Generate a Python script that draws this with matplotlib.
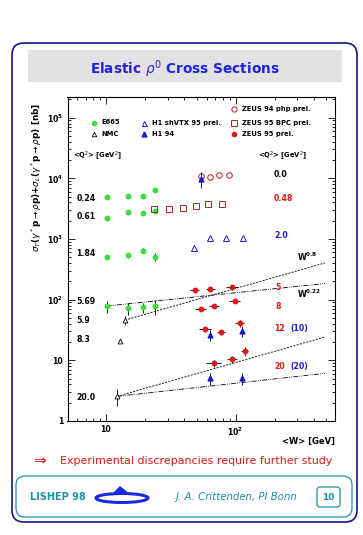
import matplotlib
matplotlib.use("Agg")
import matplotlib.pyplot as plt
import numpy as np
from matplotlib.patches import FancyBboxPatch, Ellipse, Polygon
from matplotlib.ticker import FixedLocator, FixedFormatter, LogLocator, NullFormatter

# ---------------- data ----------------
# E665 (green filled circles)
w_e665 = [10.1, 14.9, 19.2, 24.0]
e665_q024 = [4840, 5090, 5090, 6390]
e665_q061 = [2185, 2740, 2670, 2850]
e665_q184 = [509, 537, 639, 509]
e665_q184_err = [0, 50, 60, 80]
e665_q569 = [78.5, 72, 74.7, 78.5]
e665_q569_err = [18, 16, 14, 22]

# NMC (open black triangles)
w_nmc = [14.0, 12.8, 12.2]
nmc_sig = [46.1, 20.6, 2.55]
nmc_err = [8, 0, 0.8]

# ZEUS 94 php prel. (open circles)
w_zeus_php = [54.6, 64.1, 75.2, 88.8]
zeus_php = [10900, 10350, 11200, 11300]

# H1 94 photoproduction
w_h1_php = [54.6]
h1_php = [9600]
h1_php_err_lo = [2800]
h1_php_err_hi = [3200]

# ZEUS 95 BPC prel. (open squares)
w_bpc = [23.6, 30.8, 39.5, 49.3, 61.7, 78.3]
bpc_sig = [3170, 3110, 3290, 3520, 3715, 3760]

# H1 shVTX 95 prel. (open blue triangles)
w_h1sv = [48.2, 64.1, 84.7, 113.6]
h1sv_sig = [722, 1023, 1023, 1023]

# ZEUS 95 prel. (red filled circles)
w_z5 = [48.4, 64.1, 94.0];  z5 = [144, 150, 160];   z5_xe = [4, 5, 10];  z5_ye = [12, 12, 14]
w_z8 = [53.7, 68.7, 99.1];  z8 = [70, 77.6, 94.8];  z8_xe = [5, 6, 10];  z8_ye = [5, 6, 8]
w_z12 = [58.6, 77.6, 108.3]; z12 = [32.4, 29.0, 41.1]; z12_xe = [6, 6, 9]; z12_ye = [3, 3, 5]
w_z20 = [68.7, 94.0, 117.8]; z20 = [9.0, 10.4, 14.1]; z20_xe = [9, 8, 8]; z20_ye = [1.2, 1.3, 2.5]

# H1 94 DIS (blue filled triangles)
w_h1dis = [64.1, 112.3]
h1_q10 = [26.1, 30.6]; h1_q10_err = [5, 6]
h1_q20 = [5.05, 5.05]; h1_q20_err = [1.2, 1.2]

# power-law guide lines: (W0, sigma0, exponent, W_end)
line_hi_dash = (14.0, 46.1, 0.61, 490)
line_hi_dashdot = (10.1, 78.5, 0.22, 490)
line_lo_dash = (12.2, 2.55, 0.61, 490)
line_lo_dashdot = (12.2, 2.55, 0.236, 490)

left_labels = ["0.24", "0.61", "1.84", "5.69", "5.9", "8.3", "20.0"]
left_label_y = [4670, 2320, 570, 92, 45.6, 22.2, 2.42]

# ---------------- colours ----------------
GREEN = "#3ddc3d"
RED = "#e01818"
DRED = "#b02020"
BLUE = "#1a1acc"
TEAL = "#1f8fa6"
NAVY = "#14148c"

plt.rcParams['font.family'] = ['DejaVu Sans']
fig = plt.figure(figsize=(3.63, 5.35), dpi=100)

# ---------------- slide background ----------------
bg = fig.add_axes([0, 0, 1, 1], zorder=0)
bg.set_xlim(0, 363); bg.set_ylim(535, 0); bg.axis('off')
bg.add_patch(FancyBboxPatch((12, 43), 345, 479, boxstyle="round,pad=0,rounding_size=12",
                            fc='white', ec=NAVY, lw=1.2))
bg.add_patch(FancyBboxPatch((28, 50), 314, 32, boxstyle="square,pad=0",
                            fc='#e2e2e2', ec='none'))
bg.text(185, 69, r"Elastic $\rho^0$ Cross Sections", color="#2222dd", fontsize=9.8,
        fontweight='bold', ha='center', va='center')
bg.text(33, 461, "\u21d2", color=RED, fontsize=11, ha='left', va='center')
bg.text(60, 461, "Experimental discrepancies require further study", color=RED,
        fontsize=7.9, ha='left', va='center')
bg.add_patch(FancyBboxPatch((16, 476), 336, 41, boxstyle="round,pad=0,rounding_size=9",
                            fc='none', ec=TEAL, lw=0.9))
bg.text(30, 497, "LISHEP 98", color=TEAL, fontsize=7, fontweight='bold', ha='left', va='center')
bg.add_patch(Ellipse((122, 498), 52, 9, fc='none', ec='#1a2ae0', lw=2.2))
bg.add_patch(Polygon([[112, 494], [120, 486], [130, 494]], closed=True, fc='#1a2ae0', ec='none'))
bg.text(176, 497, "J. A. Crittenden, PI Bonn", color=TEAL, fontsize=7.3, style='italic',
        ha='left', va='center')
bg.add_patch(FancyBboxPatch((317, 487), 23, 20, boxstyle="round,pad=0,rounding_size=3",
                            fc='none', ec=TEAL, lw=0.9))
bg.text(328.5, 497, "10", color=TEAL, fontsize=6.5, fontweight='bold', ha='center', va='center')

# y label
bg.text(37, 103, r"$\sigma_T$($\gamma^*$p$\rightarrow$$\rho$p)+$\sigma_L$($\gamma^*$p$\rightarrow$$\rho$p) [nb]",
        rotation=90, ha='center', va='top', fontsize=6.4, fontweight='bold')

# ---------------- main axes ----------------
ax = fig.add_axes([67.5/363, (535-421)/535, 267.5/363, 324/535], zorder=2)
ax.set_xscale('log'); ax.set_yscale('log')
ax.set_xlim(5.05, 586); ax.set_ylim(1, 2.19e5)
ax.patch.set_alpha(0)

ms = 3.2
ax.plot(w_e665, e665_q024, 'o', color=GREEN, ms=ms, mec=GREEN)
ax.plot(w_e665, e665_q061, 'o', color=GREEN, ms=ms, mec=GREEN)
ax.errorbar(w_e665, e665_q184, yerr=e665_q184_err, fmt='o', color=GREEN, ms=ms, ecolor='k', elinewidth=0.6, capsize=0)
ax.errorbar(w_e665, e665_q569, yerr=e665_q569_err, fmt='o', color=GREEN, ms=ms, ecolor='k', elinewidth=0.6, capsize=0, zorder=4)

ax.errorbar(w_nmc, nmc_sig, yerr=nmc_err, fmt='^', mfc='white', mec='k', ms=3.5, mew=0.6, ecolor='k', elinewidth=0.6, capsize=0, zorder=4)

ax.plot(w_zeus_php, zeus_php, 'o', mfc='none', mec=DRED, ms=4, mew=0.7)
ax.errorbar(w_h1_php, h1_php, yerr=[h1_php_err_lo, h1_php_err_hi], fmt='^', color=BLUE, ms=3.5, ecolor='k', elinewidth=0.6, capsize=0)
ax.plot(w_bpc, bpc_sig, 's', mfc='none', mec=DRED, ms=4.3, mew=0.7)
ax.plot(w_h1sv, h1sv_sig, '^', mfc='none', mec=BLUE, ms=4, mew=0.7)

for w, s, xe, ye in [(w_z5, z5, z5_xe, z5_ye), (w_z8, z8, z8_xe, z8_ye),
                     (w_z12, z12, z12_xe, z12_ye), (w_z20, z20, z20_xe, z20_ye)]:
    ax.errorbar(w, s, xerr=xe, yerr=ye, fmt='o', color=RED, ms=ms, ecolor='k', elinewidth=0.6, capsize=0, zorder=4)
ax.errorbar(w_h1dis, h1_q10, yerr=h1_q10_err, fmt='^', color=BLUE, ms=3.5, ecolor='k', elinewidth=0.6, capsize=0, zorder=4)
ax.errorbar(w_h1dis, h1_q20, yerr=h1_q20_err, fmt='^', color=BLUE, ms=3.5, ecolor='k', elinewidth=0.6, capsize=0, zorder=4)

def powerline(params, dashes):
    w0, s0, p, w1 = params
    w = np.geomspace(w0, w1, 50)
    ax.plot(w, s0 * (w / w0) ** p, color='k', lw=0.6, dashes=dashes, zorder=3)

powerline(line_hi_dash, (2.5, 1.5))
powerline(line_lo_dash, (2.5, 1.5))
powerline(line_hi_dashdot, (6, 1.5, 1, 1.5, 1, 1.5))
powerline(line_lo_dashdot, (6, 1.5, 1, 1.5, 1, 1.5))

fs = 5.6
for lab, y in zip(left_labels, left_label_y):
    ax.text(5.9, y, lab, fontsize=fs, fontweight='bold', ha='left', va='center')
ax.text(5.56, 23200, r"<Q$^2$> [GeV$^2$]", fontsize=4.9, fontweight='bold', ha='left', va='center')
ax.text(149, 23200, r"<Q$^2$> [GeV$^2$]", fontsize=4.9, fontweight='bold', ha='left', va='center')
ax.text(198, 11600, "0.0", fontsize=fs, fontweight='bold', ha='left', va='center')
ax.text(198, 4670, "0.48", fontsize=fs, fontweight='bold', color=RED, ha='left', va='center')
ax.text(198, 1130, "2.0", fontsize=fs, fontweight='bold', color=BLUE, ha='left', va='center')
ax.text(203, 157, "5", fontsize=fs, fontweight='bold', color=RED, ha='left', va='center')
ax.text(203, 76.4, "8", fontsize=fs, fontweight='bold', color=RED, ha='left', va='center')
ax.text(198, 33.7, "12", fontsize=fs, fontweight='bold', color=RED, ha='left', va='center')
ax.text(264, 33.7, "(10)", fontsize=fs, fontweight='bold', color=BLUE, ha='left', va='center')
ax.text(198, 8.06, "20", fontsize=fs, fontweight='bold', color=RED, ha='left', va='center')
ax.text(264, 8.06, "(20)", fontsize=fs, fontweight='bold', color=BLUE, ha='left', va='center')
ax.text(298, 503, r"W$^\mathbf{0.8}$", fontsize=5.8, fontweight='bold', ha='left', va='center')
ax.text(298, 127, r"W$^\mathbf{0.22}$", fontsize=5.8, fontweight='bold', ha='left', va='center')

# manual legend (axes-fraction coordinates)
def ax_xy(px, py):
    return (px - 67.5) / 267.5, (421 - py) / 324
lfs = 4.9
entries = [
    (93.5, 122.5, dict(marker='o', color=GREEN, ms=3), "E665"),
    (93.5, 134, dict(marker='^', mfc='white', mec='k', ms=3.3, mew=0.6), "NMC"),
    (144, 122.5, dict(marker='^', mfc='white', mec=BLUE, ms=3.6, mew=0.7), "H1 shVTX 95 prel."),
    (144, 134, dict(marker='^', color=BLUE, ms=3.5), "H1 94"),
    (234, 109, dict(marker='o', mfc='white', mec=DRED, ms=3.8, mew=0.7), "ZEUS 94 php prel."),
    (234, 122.5, dict(marker='s', mfc='white', mec=DRED, ms=4, mew=0.7), "ZEUS 95 BPC prel."),
    (234, 134, dict(marker='o', color=RED, ms=3), "ZEUS 95 prel."),
]
for px, py, st, lab in entries:
    xa, ya = ax_xy(px, py)
    ax.plot([xa], [ya], transform=ax.transAxes, ls='none', clip_on=False, **st)
    ax.text(xa + 8/267.5, ya, lab, transform=ax.transAxes, fontsize=lfs, fontweight='bold',
            ha='left', va='center')

# ticks
ax.tick_params(which='both', direction='in', top=True, right=True, width=0.6)
ax.tick_params(which='major', length=5, labelsize=5.6, pad=3)
ax.tick_params(which='minor', length=2.5)
ax.yaxis.set_major_locator(FixedLocator([1, 10, 100, 1e3, 1e4, 1e5]))
ax.yaxis.set_major_formatter(FixedFormatter(["1", "10", r"10$^\mathbf{2}$", r"10$^\mathbf{3}$",
                                             r"10$^\mathbf{4}$", r"10$^\mathbf{5}$"]))
ax.yaxis.set_minor_locator(LogLocator(base=10, subs=np.arange(2, 10), numticks=20))
ax.yaxis.set_minor_formatter(NullFormatter())
ax.xaxis.set_major_locator(FixedLocator([10, 100]))
ax.xaxis.set_major_formatter(FixedFormatter(["10", r"10$^\mathbf{2}$"]))
ax.xaxis.set_minor_locator(LogLocator(base=10, subs=np.arange(2, 10), numticks=20))
ax.xaxis.set_minor_formatter(NullFormatter())
for lab in ax.get_xticklabels() + ax.get_yticklabels():
    lab.set_fontweight('bold')
for sp in ax.spines.values():
    sp.set_linewidth(0.8)

ax.text(1.0, -0.05, "<W> [GeV]", transform=ax.transAxes, fontsize=6, fontweight='bold',
        ha='right', va='top')

fig.savefig("out.png", dpi=100)
